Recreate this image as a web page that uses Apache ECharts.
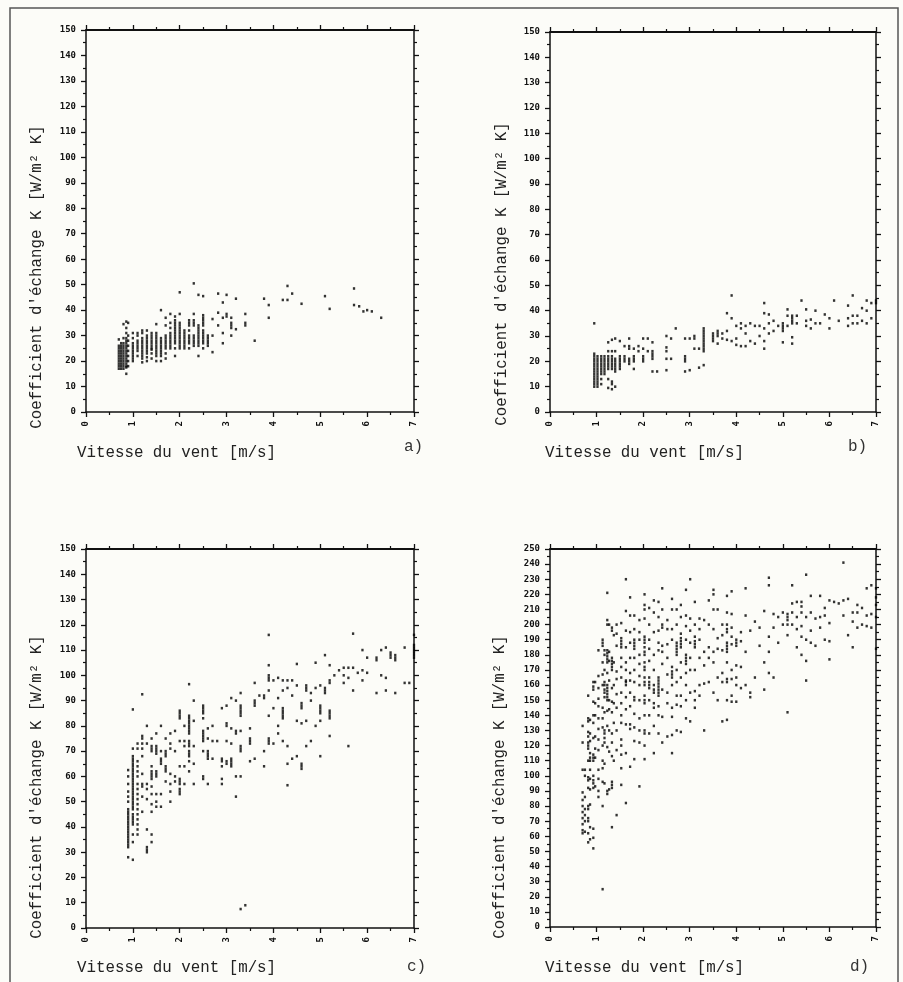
<!DOCTYPE html>
<html>
<head>
<meta charset="utf-8">
<script src="https://cdn.jsdelivr.net/npm/echarts@6/dist/echarts.min.js"></script>
<style>
html,body{margin:0;padding:0;background:#fcfcf8;}
#main{width:903px;height:982px;}
</style>
</head>
<body>
<div id="main"></div>
<script>
// colonnes de points : [vitesse, [coefficients K ...]]
var colsA = [
	[0.7,[17,18,19,20,21,22,23,24,25,26,28.5]],
	[0.75,[17,18,19,20,21,22,23,24,25,26,27]],
	[0.8,[17,18,19,20,21,22,23,24,25,26,27,29,34.5]],
	[0.86,[15,17.5,18,19,20,21,22,23,24,25,26,27,28,29,31,33,35.5]],
	[0.9,[18,20,22,24,26,28,30,35]],
	[1.0,[20,21,22,23,24,25,26,27,29,31]],
	[1.1,[22,24,25,26,27,28,30,31]],
	[1.2,[19.5,21,22,23,24,25,26,27,28,29,31,32]],
	[1.3,[20,21.5,23,24,25,26,27,28,29,30,32]],
	[1.4,[21,23,24.5,25,26,27,28,29,30,31]],
	[1.5,[20,22,23,24,25,26,27,28,29,30,31,34.5]],
	[1.6,[20,22,23,24,25,26,27,28,29,40]],
	[1.7,[21,23,25,26,27,28,29,30,34,37]],
	[1.8,[25,26,27,28,29,30,31,33,35,38.5]],
	[1.9,[22,25,27,28,29,30,31,32,33,34,35,36,37.5]],
	[2.0,[25,26,27,28,29,30,31,32,33,34,35,38.5,47]],
	[2.1,[25,26,27,28,29,30,31,32]],
	[2.2,[25,27,28,29,30,32,34,35,36]],
	[2.3,[26,27,28,29,30,34,35,36,38.5,50.5]],
	[2.4,[22,26,27,28,29,30,31,32,33,34,46]],
	[2.5,[25,27,28,29,30,31,32,34,35,36,37,38,45.5]],
	[2.6,[26,27,28,29,30]],
	[2.7,[23.5,30,36.5]],
	[2.82,[34,39,46.5]],
	[2.92,[27,31,37,43]],
	[3.0,[37.5,38.5,46]],
	[3.1,[30,33,34,35,37]],
	[3.2,[32.5,44.5]],
	[3.4,[34,35,38.5]],
	[3.6,[28]],
	[3.8,[44.5]],
	[3.9,[37,42]],
	[4.2,[44]],
	[4.3,[44,49.5]],
	[4.4,[46.5]],
	[4.6,[42.5]],
	[5.1,[45.5]],
	[5.2,[40.5]],
	[5.72,[48.5,42]],
	[5.83,[41.5]],
	[5.92,[39.5]],
	[6.0,[40]],
	[6.1,[39.5]],
	[6.3,[37]]
];

var colsB = [
	[0.95,[10,11,12,13,14,15,16,17,18,19,20,21,22,23,35]],
	[1.02,[10,11,12,13,14,15,16,17,18,19,20,21,22]],
	[1.1,[11,13,15,16,17,18,19,20,21,22]],
	[1.17,[15,16,17,18,19,20,21,22]],
	[1.25,[9.5,13,17,18,19,20,21,22,24,27.5]],
	[1.33,[9,11,12,17,18,19,20,21,22,24,28.5]],
	[1.4,[10,16,17,18,19,20,21,24,29]],
	[1.5,[17,18,19,20,21,22,28]],
	[1.6,[20,21,22,26]],
	[1.7,[19,20,21,25,26,29]],
	[1.8,[17,20,21,22,25]],
	[1.9,[24,26]],
	[2.0,[20,21,22,25,29]],
	[2.1,[24,29]],
	[2.2,[16,21,22,23,24,27.5]],
	[2.3,[16]],
	[2.5,[16.5,21,24,25.5,30]],
	[2.6,[21,29]],
	[2.7,[33]],
	[2.9,[16,20,21,22,29]],
	[3.0,[16.5,29]],
	[3.1,[25,29,30]],
	[3.2,[17.5,25]],
	[3.3,[18.5,24,25,26,27,28,29,30,31,32,33]],
	[3.5,[28,29,30,31]],
	[3.6,[27,30,31,32]],
	[3.7,[29,31]],
	[3.8,[28.5,32,39]],
	[3.9,[28,37,46]],
	[4.0,[26.5,29,34]],
	[4.1,[26,33,35]],
	[4.2,[26,31,34]],
	[4.3,[28,35]],
	[4.4,[27,34]],
	[4.5,[30,34]],
	[4.6,[25,28,33,39,43]],
	[4.7,[31,35,38.5]],
	[4.8,[32,36]],
	[4.9,[34]],
	[5.0,[27.5,32,33,34,35]],
	[5.1,[34,38,40.5]],
	[5.2,[27,29.5,35,36,37,38]],
	[5.3,[35,38]],
	[5.4,[44]],
	[5.5,[34,36,40.5]],
	[5.6,[33,36.5]],
	[5.7,[35,40]],
	[5.8,[35]],
	[5.9,[38.5]],
	[6.0,[33,37]],
	[6.1,[44]],
	[6.2,[36]],
	[6.4,[34,37,42]],
	[6.5,[35,38,46]],
	[6.6,[35,38]],
	[6.7,[36,41]],
	[6.8,[35,40,44]],
	[6.9,[37,43]],
	[7.0,[43,44]]
];

var colsC = [
	[0.9,[28,32,33,34,35,36,37,38,39,40,41,42,43,44,45,46,47,50,52,54,57,60,62.5]],
	[1.0,[27,34,37,41,42,43,44,45,47,48,49,50,51,52,53,54,55,56,57,58,59,60,61,62,63,64,65,66,67,68,71,86.5]],
	[1.1,[37,39,41,43,45,47,49,51,53,55,57,60,62,64,66,71,73]],
	[1.2,[46,52,56,57,61,68,71,73,75,76,92.5]],
	[1.3,[30,31,32,39,51,55,57,73,80]],
	[1.4,[34,37,46,49,53,56,59,60,61,62,64,70,71,72,75]],
	[1.5,[48,50,53,60,61,62,69,70,71,72,77]],
	[1.6,[48,53,65,66,67,70,80]],
	[1.7,[58,62,63,64,68,69,70,75]],
	[1.8,[50,54,57,61,71,73,77]],
	[1.9,[58,60,70,78]],
	[2.0,[53,54,55,57,58,59,64,74,83,84,85,86]],
	[2.1,[57,64,72,74,80]],
	[2.2,[62,66,68,69,70,72,73,74,77,78,79,80,81,82,83,84,96.5]],
	[2.3,[57,65,72,82,90]],
	[2.5,[59,60,70,74,75,76,77,78,83,85,86,87,88]],
	[2.6,[57,67,68,69,70,75,79]],
	[2.7,[67,74,80]],
	[2.8,[74]],
	[2.9,[57,59,64,66,67,87]],
	[3.0,[65,66,74,80,81,88]],
	[3.1,[64,65,66,67,73,79,91]],
	[3.2,[52,60,77,78,90]],
	[3.3,[7.5,60,70,71,72,78,84,85,86,87,88,93]],
	[3.4,[9]],
	[3.5,[66,73,74,75,79]],
	[3.6,[67,88,89,90,97]],
	[3.7,[92]],
	[3.8,[64,70,91,92]],
	[3.9,[73,74,75,84,94,98,99,100,104,116]],
	[4.0,[73,87,98]],
	[4.1,[77,80,91,99]],
	[4.2,[74,83,84,85,86,87,94,98]],
	[4.3,[56.5,65,72,95,98]],
	[4.4,[67,92,98]],
	[4.5,[68,82,96,104.5]],
	[4.6,[63,64,65,81,87,88,89]],
	[4.7,[72,82,94,95,96]],
	[4.8,[74,90,93]],
	[4.9,[80,95,105]],
	[5.0,[68,82,85,86,87,88,96]],
	[5.1,[93,94,95,108]],
	[5.2,[76,83,84,85,86,97,98,104]],
	[5.3,[100]],
	[5.4,[102]],
	[5.5,[97,100,103]],
	[5.6,[72,99,103]],
	[5.7,[94,103,116.5]],
	[5.8,[101]],
	[5.9,[98,102,110]],
	[6.0,[101,107]],
	[6.2,[93,106,107]],
	[6.3,[100,110]],
	[6.4,[94,99,111]],
	[6.5,[107,108,109]],
	[6.6,[93,106,107,108]],
	[6.8,[97,111]],
	[6.9,[97]],
	[7.0,[107,108,109,110,111,112,116]]
];

var colsD = [
	[0.7,[62,64,68,72,76,80,84,89,104,122,133]],
	[0.75,[63,70,74,78,86,100,104]],
	[0.82,[56,62,70,72,78,80,92,97,99,110,118,120,122,126,129,136,138,153]],
	[0.86,[58,66,81,91,98,104,110,112,115,123,128,137]],
	[0.93,[52,59,65,92,95,97,100,110,112,114,125,135,140,149,157,159,162]],
	[0.97,[93,112,118,126,140,148,162]],
	[1.04,[86,90,98,104,117,124,131,138,146,151,158,166,183]],
	[1.13,[25,80,96,105,110,120,132,138,145,160,167,175,186,188,190]],
	[1.17,[95,108,122,125,128,130,142,152,155,157,160,162,170,180,183]],
	[1.23,[88,90,119,133,143,150,152,154,156,158,160,168,175,177,179,181,183,200,203,221]],
	[1.27,[91,116,130,144,150,163,176,182,200]],
	[1.33,[66,92,94,96,113,122,128,142,149,158,170,172,174,176,178,196,198]],
	[1.37,[110,135,148,160,175,193]],
	[1.43,[74,117,130,145,154,164,169,186,194,200]],
	[1.53,[94,105,114,120,124,135,140,148,155,165,172,178,185,187,189,191,201]],
	[1.63,[82,115,134,144,152,160,162,163,170,175,185,196,209,230]],
	[1.72,[106,131,134,146,155,163,168,178,188,195,206,218]],
	[1.81,[111,123,132,141,150,152,162,170,178,184,186,188,190,197,206]],
	[1.92,[93,122,130,138,150,160,166,174,180,190,195,203]],
	[2.03,[111,120,128,130,140,148,150,153,160,162,165,170,172,175,180,182,185,188,190,192,204,210,213,220]],
	[2.13,[128,140,150,158,160,162,165,176,184,190,200,211]],
	[2.23,[115,133,145,148,155,157,160,170,180,195,208,216]],
	[2.33,[128,140,146,153,155,157,159,161,163,165,183,188,196,205,215]],
	[2.41,[122,139,157,174,182,186,198,200,210,224]],
	[2.52,[126,148,155,167,178,187,197,203]],
	[2.62,[115,127,139,145,160,165,167,169,172,190,197,210,217]],
	[2.72,[130,147,153,162,170,180,182,184,186,188,200,210]],
	[2.81,[129,146,153,165,175,185,187,189,191,194,205,213]],
	[2.92,[138,150,160,168,174,176,178,180,190,199,206,223]],
	[3.01,[136,155,170,178,188,196,204,230]],
	[3.11,[145,150,156,170,185,187,189,192,200,215]],
	[3.21,[153,160,178,190,197,204]],
	[3.31,[130,161,173,182,203]],
	[3.41,[162,178,185,200,216]],
	[3.51,[155,175,182,197,210,220,223]],
	[3.6,[150,165,184,191,210]],
	[3.7,[136,162,168,183,193,200]],
	[3.8,[137,150,162,164,175,182,184,186,188,195,197,200,208,219]],
	[3.9,[149,153,164,170,187,192,198,207,222]],
	[4.0,[149,160,165,173,186,188,190]],
	[4.1,[158,172,189,195]],
	[4.2,[160,182,206,224]],
	[4.3,[152,155,196]],
	[4.4,[165,202]],
	[4.5,[186,198]],
	[4.6,[157,175,209]],
	[4.7,[168,182,192,226,231]],
	[4.8,[165,198,207]],
	[4.9,[188,205]],
	[5.0,[200,208]],
	[5.1,[142,193,200,203,205,207]],
	[5.2,[200,208,214,226]],
	[5.3,[185,197,205,215]],
	[5.4,[180,192,199,208,212,215]],
	[5.5,[163,176,190,205,233]],
	[5.6,[188,196,208,219]],
	[5.7,[186,204]],
	[5.8,[198,205,219]],
	[5.9,[190,206,211]],
	[6.0,[177,189,201,216]],
	[6.1,[215]],
	[6.2,[214]],
	[6.3,[206,216,241]],
	[6.4,[193,217]],
	[6.5,[185,202,208]],
	[6.6,[198,208,213]],
	[6.7,[200,211]],
	[6.8,[199,206,224]],
	[6.9,[198,207,226]],
	[7.0,[184,205,213,218,224]]
];

var yMax = [150, 150, 150, 250];
var panelNames = ['a)', 'b)', 'c)', 'd)'];
var xTitle = 'Vitesse du vent [m/s]';
var yTitle = "Coefficient d'échange K [W/m² K]";

function flatten(cols) {
	var out = [];
	for (var i = 0; i < cols.length; i++) {
		for (var j = 0; j < cols[i][1].length; j++) {
			out.push([cols[i][0], cols[i][1][j]]);
		}
	}
	return out;
}

var ink = '#111';
var mono = 'DejaVu Sans Mono';
var typeFont = 'Liberation Mono';

// position des 4 cadres
var grids = [
	{left: 86, top: 30, width: 328, height: 382},
	{left: 550, top: 32, width: 326, height: 380},
	{left: 86, top: 549, width: 328, height: 379},
	{left: 550, top: 549, width: 326, height: 378}
];

function makeX(gi, pos) {
	return {
		gridIndex: gi, type: 'value', position: pos,
		min: 0, max: 7, interval: 1,
		axisLine: {onZero: false, lineStyle: {color: ink, width: pos === 'top' ? 1.8 : 1.5}},
		axisTick: {show: true, length: 5, lineStyle: {color: ink, width: 1.3}},
		minorTick: {show: true, splitNumber: 2, length: 3, lineStyle: {color: ink, width: 1.2}},
		splitLine: {show: false},
		minorSplitLine: {show: false},
		axisLabel: pos === 'bottom' ? {
			show: true, rotate: 90, margin: 9,
			fontFamily: mono, fontSize: 9, fontWeight: 'bold', color: ink
		} : {show: false}
	};
}

function makeY(gi, pos, max) {
	return {
		gridIndex: gi, type: 'value', position: pos,
		min: 0, max: max, interval: 10,
		axisLine: {onZero: false, lineStyle: {color: ink, width: 1.5}},
		axisTick: {show: true, length: 5, lineStyle: {color: ink, width: 1.3}},
		minorTick: {show: true, splitNumber: 2, length: 3, lineStyle: {color: ink, width: 1.2}},
		splitLine: {show: false},
		minorSplitLine: {show: false},
		axisLabel: pos === 'left' ? {
			show: true, margin: 10,
			fontFamily: mono, fontSize: 9, fontWeight: 'bold', color: ink
		} : {show: false}
	};
}

var xAxes = [], yAxes = [], series = [];
var allCols = [colsA, colsB, colsC, colsD];
for (var g = 0; g < 4; g++) {
	xAxes.push(makeX(g, 'bottom'));
	xAxes.push(makeX(g, 'top'));
	yAxes.push(makeY(g, 'left', yMax[g]));
	yAxes.push(makeY(g, 'right', yMax[g]));
	series.push({
		type: 'scatter',
		xAxisIndex: g * 2,
		yAxisIndex: g * 2,
		symbol: 'rect',
		symbolSize: [2.3, 2.6],
		itemStyle: {color: '#000'},
		silent: true,
		data: flatten(allCols[g])
	});
}

// textes : titres d'axes et lettres des panneaux
var texts = [
	{xt: [77, 453], yt: [37, 277], lab: [404, 447]},
	{xt: [545, 453], yt: [502, 274], lab: [848, 447]},
	{xt: [77, 968], yt: [37, 787], lab: [407, 967]},
	{xt: [545, 968], yt: [500, 787], lab: [850, 967]}
];
var graphic = [{
	type: 'rect',
	shape: {x: 10, y: 8, width: 888, height: 1000},
	style: {fill: 'none', stroke: '#555', lineWidth: 1.5},
	silent: true
}];
for (var k = 0; k < 4; k++) {
	graphic.push({
		type: 'text', x: texts[k].xt[0], y: texts[k].xt[1],
		style: {text: xTitle, font: '15.8px "' + typeFont + '"', fill: '#222', align: 'left', verticalAlign: 'middle'}
	});
	graphic.push({
		type: 'text', x: texts[k].yt[0], y: texts[k].yt[1], rotation: Math.PI / 2,
		style: {text: yTitle, font: '15.8px "' + typeFont + '"', fill: '#222', align: 'center', verticalAlign: 'middle'}
	});
	graphic.push({
		type: 'text', x: texts[k].lab[0], y: texts[k].lab[1],
		style: {text: panelNames[k], font: '16px "' + typeFont + '"', fill: '#333', align: 'left', verticalAlign: 'middle'}
	});
}

var myChart = echarts.init(document.getElementById('main'));
myChart.setOption({
	backgroundColor: '#fcfcf8',
	animation: false,
	grid: grids,
	xAxis: xAxes,
	yAxis: yAxes,
	series: series,
	graphic: graphic
});
</script>
</body>
</html>
